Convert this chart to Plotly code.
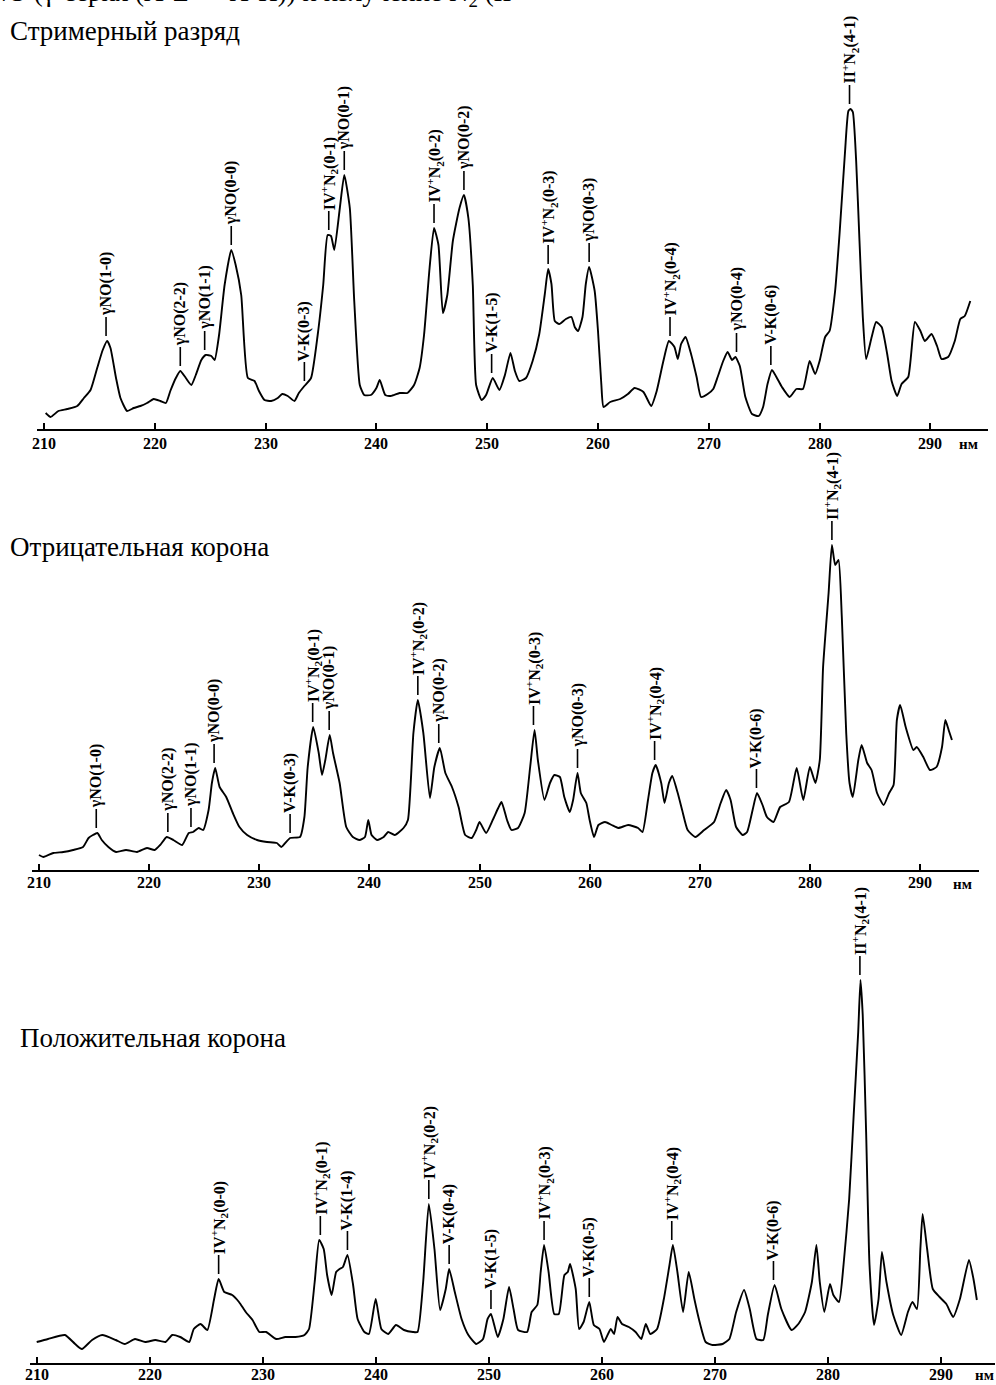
import plotly.graph_objects as go

W, H = 996, 1385
FONT = "Liberation Serif"


def px(x):
    return x / W


def py(y):
    return 1 - y / H


# ---------------- data (wavelength, nm / relative intensity, a.u.) ----------------
tick_nm = [210, 220, 230, 240, 250, 260, 270, 280, 290]
tick_text = [str(t) for t in tick_nm]

streamer_nm = [210.15, 210.6, 211.3, 212.1, 213.0, 213.6, 214.2, 214.8, 215.3, 215.7, 216.0, 216.5, 216.9,
               217.5, 218.1, 218.7, 219.3, 219.9, 220.5, 221.0, 221.4, 221.9, 222.3, 222.8, 223.3, 223.7,
               224.2, 224.6, 225.1, 225.4, 225.8, 226.3, 226.9, 227.3, 227.8, 228.4, 229.0, 229.4, 229.9,
               230.5, 231.1, 231.5, 232.0, 232.6, 233.0, 233.5, 234.1, 234.7, 235.2, 235.6, 235.9, 236.2,
               236.7, 237.1, 237.6, 238.0, 238.5, 238.9, 239.5, 240.0, 240.3, 240.8, 241.3, 242.1, 242.8,
               243.4, 243.9, 244.3, 244.8, 245.2, 245.6, 246.0, 246.4, 246.9, 247.5, 247.9, 248.3, 248.7,
               249.0, 249.5, 249.9, 250.5, 251.1, 251.6, 252.1, 252.5, 252.9, 253.5, 254.1, 254.7, 255.2,
               255.5, 255.8, 256.1, 256.5, 257.1, 257.6, 257.9, 258.2, 258.6, 258.9, 259.2, 259.7, 260.0,
               260.3, 260.5, 261.1, 262.0, 262.7, 263.3, 264.1, 264.8, 265.3, 265.9, 266.4, 266.9, 267.2,
               267.5, 267.9, 268.4, 268.9, 269.3, 269.9, 270.4, 270.8, 271.3, 271.7, 272.1, 272.4, 272.8,
               273.3, 273.9, 274.5, 274.9, 275.3, 275.7, 276.1, 276.6, 277.3, 277.9, 278.5, 279.1, 279.6,
               280.0, 280.5, 280.9, 281.4, 281.8, 282.3, 282.6, 282.8, 283.0, 283.3, 283.6, 283.9, 284.2,
               284.7, 285.1, 285.6, 286.1, 286.5, 287.0, 287.4, 288.0, 288.6, 289.1, 289.5, 290.1, 290.6,
               291.0, 291.6, 292.2, 292.7, 293.1, 293.6]
streamer_I = [16, 12, 18, 20, 23, 31, 39, 61, 79, 88, 81, 51, 31,
              18, 21, 23, 26, 30, 28, 26, 38, 51, 58, 51, 44, 54,
              69, 74, 73, 69, 94, 144, 179, 164, 134, 51, 48, 38, 29,
              28, 31, 35, 33, 28, 36, 43, 51, 94, 144, 194, 193, 179,
              221, 254, 221, 128, 44, 34, 34, 41, 49, 34, 33, 36, 36,
              44, 61, 94, 161, 201, 184, 116, 134, 188, 221, 234, 211, 144,
              44, 29, 34, 51, 39, 54, 76, 58, 48, 51, 68, 95, 135,
              160, 145, 108, 105, 110, 112, 102, 98, 112, 145, 162, 138, 98,
              45, 22, 27, 30, 35, 41, 37, 23, 38, 68, 88, 82, 70,
              85, 92, 75, 52, 32, 35, 40, 52, 68, 77, 69, 72, 63,
              32, 15, 13, 22, 45, 59, 52, 42, 32, 40, 40, 68, 55,
              68, 92, 98, 138, 195, 278, 318, 320, 317, 268, 188, 112, 70,
              92, 107, 102, 75, 48, 33, 45, 52, 107, 98, 88, 95, 83,
              70, 72, 88, 110, 113, 128]

negative_nm = [210.0, 210.4, 211.3, 212.2, 213.1, 214.0, 214.5, 214.9, 215.3, 215.7, 216.3, 217.0, 217.9,
               218.9, 219.8, 220.5, 221.0, 221.6, 222.2, 223.0, 223.6, 224.0, 224.5, 224.9, 225.4, 225.7,
               226.0, 226.4, 227.0, 227.6, 228.2, 228.9, 229.8, 230.7, 231.6, 232.0, 232.8, 233.7, 234.1,
               234.4, 234.9, 235.4, 235.7, 236.0, 236.4, 236.7, 237.3, 237.9, 238.5, 239.1, 239.6, 239.9,
               240.2, 240.7, 241.3, 241.7, 242.3, 243.1, 243.5, 244.0, 244.4, 244.9, 245.5, 245.9, 246.4,
               246.9, 247.5, 248.1, 248.7, 249.3, 249.7, 250.0, 250.6, 251.2, 251.7, 252.0, 252.5, 252.9,
               253.5, 254.1, 254.6, 255.0, 255.3, 255.9, 256.4, 256.8, 257.3, 257.7, 258.2, 258.5, 258.9,
               259.2, 259.7, 260.0, 260.4, 260.8, 261.4, 262.0, 262.6, 263.5, 264.4, 264.8, 265.3, 265.7,
               266.0, 266.5, 266.8, 267.2, 267.5, 268.0, 268.4, 268.9, 269.6, 270.4, 271.3, 271.9, 272.4,
               272.8, 273.3, 273.9, 274.3, 274.8, 275.2, 275.7, 276.1, 276.7, 277.3, 278.1, 278.8, 279.4,
               280.0, 280.5, 280.9, 281.2, 281.7, 282.0, 282.3, 282.6, 282.9, 283.3, 283.6, 283.9, 284.4,
               284.7, 285.2, 285.6, 286.1, 286.7, 287.2, 287.6, 287.9, 288.2, 288.7, 289.4, 289.7, 290.3,
               290.9, 291.5, 292.0, 292.3, 292.6, 292.9]
negative_I = [15, 13, 17, 18, 20, 23, 32, 35, 37, 30, 23, 18, 20,
              18, 22, 20, 25, 33, 30, 25, 37, 38, 42, 40, 60, 87,
              102, 83, 73, 57, 43, 35, 30, 28, 27, 23, 32, 33, 53,
              103, 143, 117, 95, 110, 135, 117, 87, 43, 33, 30, 33, 50,
              35, 30, 33, 38, 35, 42, 50, 137, 170, 137, 72, 103, 122,
              97, 83, 63, 35, 32, 40, 48, 37, 50, 62, 68, 50, 40,
              42, 57, 103, 140, 110, 70, 87, 95, 93, 73, 58, 70, 97,
              77, 67, 50, 33, 45, 48, 45, 42, 45, 42, 38, 70, 97,
              105, 87, 67, 87, 94, 77, 60, 40, 33, 40, 48, 67, 80,
              70, 43, 35, 38, 60, 77, 65, 53, 48, 63, 68, 102, 70,
              103, 87, 110, 203, 277, 325, 305, 310, 253, 137, 87, 73, 110,
              125, 107, 100, 77, 65, 77, 85, 150, 165, 143, 120, 123, 113,
              100, 103, 123, 150, 140, 130]

positive_nm = [210.0, 211.0, 212.5, 213.4, 214.0, 214.9, 215.8, 217.0, 217.8, 218.7, 219.6, 220.5, 221.4,
               222.0, 222.7, 223.5, 223.9, 224.5, 225.1, 225.7, 226.1, 226.6, 227.3, 227.9, 228.5, 229.1,
               229.7, 230.3, 231.2, 232.0, 232.9, 233.7, 234.1, 234.6, 235.0, 235.4, 235.7, 236.1, 236.5,
               236.8, 237.1, 237.5, 238.0, 238.4, 239.0, 239.4, 240.0, 240.5, 241.1, 241.8, 242.5, 243.3,
               243.7, 244.2, 244.7, 245.2, 245.7, 246.2, 246.5, 247.0, 247.6, 248.2, 248.9, 249.5, 249.9,
               250.2, 250.8, 251.3, 251.8, 252.2, 252.6, 253.4, 253.8, 254.3, 254.6, 254.9, 255.3, 255.8,
               256.2, 256.7, 257.0, 257.2, 257.7, 258.0, 258.4, 258.9, 259.3, 259.8, 260.2, 260.8, 261.1,
               261.4, 261.8, 262.4, 263.0, 263.5, 263.9, 264.3, 264.9, 265.5, 266.0, 266.3, 266.7, 267.2,
               267.7, 268.2, 268.6, 269.2, 269.8, 270.7, 271.3, 271.9, 272.6, 273.1, 273.7, 274.3, 274.7,
               275.3, 275.9, 276.8, 277.4, 278.0, 278.6, 279.0, 279.3, 279.7, 280.2, 280.5, 281.0, 281.4,
               281.9, 282.3, 282.7, 282.9, 283.1, 283.4, 283.7, 284.1, 284.5, 284.8, 285.2, 285.8, 286.5,
               287.1, 287.5, 287.9, 288.2, 288.4, 288.8, 289.3, 289.9, 290.5, 291.1, 291.7, 292.5, 292.9,
               293.2]
positive_I = [21, 24, 28, 19, 14, 23, 28, 23, 19, 24, 21, 23, 21,
              28, 26, 21, 34, 39, 33, 64, 84, 71, 68, 61, 51, 43,
              31, 31, 24, 26, 26, 28, 34, 81, 123, 114, 88, 68, 91,
              94, 96, 108, 78, 44, 31, 29, 64, 34, 29, 38, 33, 31,
              31, 81, 159, 114, 53, 74, 94, 71, 44, 28, 19, 24, 44,
              49, 26, 44, 76, 54, 33, 31, 51, 58, 91, 118, 91, 49,
              49, 88, 91, 99, 74, 34, 41, 61, 38, 34, 21, 34, 29,
              46, 39, 36, 31, 24, 39, 29, 34, 64, 98, 118, 91, 51,
              91, 64, 44, 21, 18, 19, 24, 51, 73, 54, 24, 23, 48,
              78, 54, 33, 39, 51, 81, 118, 81, 51, 79, 68, 61, 98,
              164, 248, 331, 383, 348, 231, 98, 38, 64, 111, 81, 48, 28,
              51, 61, 54, 114, 149, 114, 74, 66, 59, 46, 64, 103, 84,
              63]

IV2 = "IV<sup>+</sup>N<sub>2</sub>"
II2 = "II<sup>+</sup>N<sub>2</sub>"

streamer_label_nm = [215.6, 222.3, 224.5, 226.9, 233.5, 235.7, 237.1, 245.2, 247.9, 250.4,
                     255.5, 259.2, 266.5, 272.5, 275.6, 282.7]
streamer_label_text = ["γNO(1-0)", "γNO(2-2)", "γNO(1-1)", "γNO(0-0)", "V-K(0-3)", IV2 + "(0-1)",
                       "γNO(0-1)", IV2 + "(0-2)", "γNO(0-2)", "V-K(1-5)", IV2 + "(0-3)", "γNO(0-3)",
                       IV2 + "(0-4)", "γNO(0-4)", "V-K(0-6)", II2 + "(4-1)"]

negative_label_nm = [215.2, 221.7, 223.8, 225.9, 232.8, 234.85, 236.35, 244.4, 246.3, 254.9,
                     258.9, 265.9, 275.15, 282.0]
negative_label_text = ["γNO(1-0)", "γNO(2-2)", "γNO(1-1)", "γNO(0-0)", "V-K(0-3)", IV2 + "(0-1)",
                       "γNO(0-1)", IV2 + "(0-2)", "γNO(0-2)", IV2 + "(0-3)", "γNO(0-3)",
                       IV2 + "(0-4)", "V-K(0-6)", II2 + "(4-1)"]

positive_label_nm = [226.1, 235.1, 237.5, 244.7, 246.5, 250.2, 254.9, 258.9, 266.2, 275.2, 282.85]
positive_label_text = [IV2 + "(0-0)", IV2 + "(0-1)", "V-K(1-4)", IV2 + "(0-2)", "V-K(0-4)", "V-K(1-5)",
                       IV2 + "(0-3)", "V-K(0-5)", IV2 + "(0-4)", "V-K(0-6)", II2 + "(4-1)"]

titles = ["Стримерный разряд", "Отрицательная корона", "Положительная корона"]
unit_text = "нм"
header_text = ("NO (γ-серия (A<sup>2</sup>Σ → X<sup>2</sup>Π)) и излучение "
               "N<sub>2</sub> (II")

# ---------------- layout geometry (page pixels) ----------------
panels = [
    dict(nm=streamer_nm, I=streamer_I, lab_nm=streamer_label_nm, lab_txt=streamer_label_text,
         axis_y=429, top_y=0, line_x0=36.7, line_x1=988, t210=44.0, ppn=11.08,
         title_x=8, title_y=31, unit_x=968, tick_y=443),
    dict(nm=negative_nm, I=negative_I, lab_nm=negative_label_nm, lab_txt=negative_label_text,
         axis_y=870, top_y=480, line_x0=32, line_x1=979, t210=39, ppn=11.0125,
         title_x=8, title_y=547, unit_x=962, tick_y=883),
    dict(nm=positive_nm, I=positive_I, lab_nm=positive_label_nm, lab_txt=positive_label_text,
         axis_y=1363, top_y=900, line_x0=30, line_x1=995, t210=36.7, ppn=11.3,
         title_x=18, title_y=1038, unit_x=984, tick_y=1374),
]

DASH = 19      # leader dash length, px
GAP = 5        # gap between curve maximum and dash, px

fig = go.Figure()
annotations = []
shapes = []
layout_axes = {}

for i, p in enumerate(panels, start=1):
    xa = "x" if i == 1 else f"x{i}"
    ya = "y" if i == 1 else f"y{i}"
    fig.add_trace(go.Scatter(x=p["nm"], y=p["I"], mode="lines",
                             line=dict(color="black", width=1.9, shape="spline", smoothing=0.5),
                             xaxis=xa, yaxis=ya, showlegend=False, hoverinfo="x+y"))
    x_left = 210 - (p["t210"] - p["line_x0"]) / p["ppn"]
    x_right = 210 + (p["line_x1"] - p["t210"]) / p["ppn"]
    layout_axes["xaxis" if i == 1 else f"xaxis{i}"] = dict(
        domain=[px(p["line_x0"]), px(p["line_x1"])], anchor=ya, range=[x_left, x_right],
        showline=True, linecolor="black", linewidth=2, ticks="inside", ticklen=6, tickwidth=2,
        tickcolor="black", tickvals=tick_nm, showticklabels=False, showgrid=False, zeroline=False,
        fixedrange=True)
    layout_axes["yaxis" if i == 1 else f"yaxis{i}"] = dict(
        domain=[py(p["axis_y"]), py(p["top_y"])], anchor=xa, range=[0, p["axis_y"] - p["top_y"]],
        visible=False, fixedrange=True)

    # tick labels
    for t, tt in zip(tick_nm, tick_text):
        annotations.append(dict(
            x=t, y=py(p["tick_y"]), xref=xa, yref="paper", text=tt, showarrow=False,
            xanchor="center", yanchor="middle",
            font=dict(family=FONT, size=16, color="black", weight="bold")))

    # band labels with a short leader dash, positioned on the local maximum of the curve
    for lam, txt in zip(p["lab_nm"], p["lab_txt"]):
        near = [v for x, v in zip(p["nm"], p["I"]) if abs(x - lam) <= 0.36]
        peak = max(near)
        shapes.append(dict(
            type="line", xref=xa, yref=ya, x0=lam, x1=lam,
            ysizemode="pixel", yanchor=peak, y0=GAP, y1=GAP + DASH,
            line=dict(color="black", width=1.6)))
        annotations.append(dict(
            x=lam, y=peak, xref=xa, yref=ya, text=txt, textangle=-90,
            showarrow=False, xanchor="center", yanchor="bottom", yshift=GAP + DASH,
            borderpad=0,
            font=dict(family=FONT, size=16, color="black", weight="bold")))

    annotations.append(dict(
        x=px(p["title_x"]), y=py(p["title_y"]), xref="paper", yref="paper", text=titles[i - 1],
        showarrow=False, xanchor="left", yanchor="middle",
        font=dict(family=FONT, size=27, color="black")))
    annotations.append(dict(
        x=px(p["unit_x"]), y=py(p["tick_y"] + 1), xref="paper", yref="paper", text=unit_text,
        showarrow=False, xanchor="center", yanchor="middle",
        font=dict(family=FONT, size=15, color="black", weight="bold")))

annotations.append(dict(
    x=px(-14), y=py(-8), xref="paper", yref="paper", text=header_text,
    showarrow=False, xanchor="left", yanchor="middle",
    font=dict(family=FONT, size=27, color="black")))

fig.update_layout(
    width=W, height=H, margin=dict(l=0, r=0, t=0, b=0),
    paper_bgcolor="white", plot_bgcolor="white",
    annotations=annotations, shapes=shapes, showlegend=False, **layout_axes)

fig.write_html("out.html", config={"displayModeBar": False},
               post_script="document.body.style.margin='0';")
